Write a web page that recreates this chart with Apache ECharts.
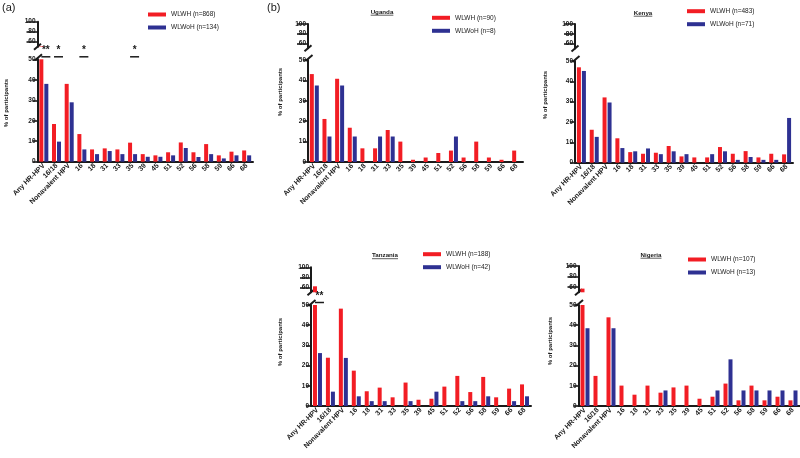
<!DOCTYPE html>
<html><head><meta charset="utf-8">
<script src="https://cdn.jsdelivr.net/npm/echarts@6/dist/echarts.min.js"></script>
<style>html,body{margin:0;padding:0;background:#fff}#c{width:800px;height:458px}</style>
</head><body><div id="c"></div>
<script>
const categories = ['Any HR-HPV','16/18','Nonavalent HPV','16','18','31','33','35','39','45','51','52','56','58','59','66','68'];
const overallWLWH  = [51,18.4,38,13.5,6,6.5,6,9.3,3.7,3.1,4.6,9.4,4.6,8.6,3.1,4.9,5.5];
const overallWLWoH = [38,9.8,29,6,3.7,5.2,3.7,3.7,2.4,2.4,3.1,6.7,2.3,3.7,1.6,3.1,3.1];
const ugandaWLWH   = [43.1,21.1,40.8,16.8,6.7,6.7,15.7,10,1.1,2.2,4.4,5.6,2.2,10,2.2,1.1,5.6];
const ugandaWLWoH  = [37.5,12.5,37.5,12.5,0,12.5,12.5,0,0,0,0,12.5,0,0,0,0,0];
const kenyaWLWH    = [46.9,16.2,32.1,12,5.2,4.4,4.9,8.2,3.1,2.6,2.6,7.7,4.4,5.7,2.6,4.4,4.1];
const kenyaWLWoH   = [45.1,12.7,29.6,7.2,5.6,7,4.2,5.6,4.2,0,4.2,5.6,1.4,2.8,1.4,1.4,22];
const tanzaniaWLWH = [62,23.9,48.2,17.5,7.3,9.1,4.3,11.6,3.1,3.6,9.6,14.9,6.9,14.4,4.3,8.6,10.7];
const tanzaniaWLWoH= [26.2,7.1,23.8,4.8,2.4,2.4,0,2.4,0,7.1,0,2.4,2.4,4.8,0,2.4,4.8];
const nigeriaWLWH  = [57,14.9,43.9,10.1,5.6,10.1,6.6,9.2,10.1,3.6,4.6,11.1,2.8,10.1,2.8,4.6,2.8];
const nigeriaWLWoH = [38.5,0,38.5,0,0,0,7.7,0,0,0,7.7,23.1,7.7,7.7,7.7,7.7,7.7];
const yTicksUpper = [60,80,100];
const panelTitles = ['', 'Uganda', 'Kenya', 'Tanzania', 'Nigeria'];
const wlwhNames  = ['WLWH (n=868)','WLWH (n=90)','WLWH (n=483)','WLWH (n=188)','WLWH (n=107)'];
const wlwohNames = ['WLWoH (n=134)','WLWoH (n=8)','WLWoH (n=71)','WLWoH (n=42)','WLWoH (n=13)'];
const significance = [
  [['Any HR-HPV','**'],['16/18','*'],['16','*'],['35','*']],
  [], [], [['Any HR-HPV','**']], []
];
const yName = '% of participants';

const panelData = [
  [overallWLWH, overallWLWoH],
  [ugandaWLWH, ugandaWLWoH],
  [kenyaWLWH, kenyaWLWoH],
  [tanzaniaWLWH, tanzaniaWLWoH],
  [nigeriaWLWH, nigeriaWLWoH]
];

const RED = '#f21d24', BLUE = '#2e3192', INK = '#1a1a1a';
const FONT = 'Liberation Sans, Arial, sans-serif';

const layout = [
  {left:37.5, width:215.5, upTop:21.7, upH:25,   loTop:59.3, loH:102.4, nameX:6.5,   nameY:103, legL:148, legT:11},
  {left:308,  width:215,   upTop:24,   upH:24.2, loTop:60,   loH:102,   nameX:280.7, nameY:92,  legL:432, legT:14.3, tX:382, tY:12},
  {left:575,  width:218,   upTop:24,   upH:24.6, loTop:61,   loH:101.7, nameX:545,   nameY:95,  legL:687, legT:7.7,  tX:643, tY:13},
  {left:311,  width:220,   upTop:267.3,upH:25,   loTop:305,  loH:101,   nameX:280.7, nameY:342, legL:423, legT:250.7,tX:385, tY:255.5},
  {left:578.5,width:221,   upTop:266,  upH:26.3, loTop:305,  loH:101,   nameX:550.7, nameY:341, legL:688, legT:256,  tX:651, tY:255}
];

const grid = [], xAxis = [], yAxis = [], series = [], legend = [];
const yLabelStyle = {fontSize:6.5, fontWeight:'bold', color:INK, fontFamily:FONT};
const xLabelStyle = {fontSize:7, fontWeight:'bold', color:INK, fontFamily:FONT};
layout.forEach((L, i) => {
  const up = 2*i, lo = 2*i+1;
  grid.push({left:L.left, width:L.width, top:L.upTop, height:L.upH});
  grid.push({left:L.left, width:L.width, top:L.loTop, height:L.loH});
  xAxis.push({gridIndex:up, type:'category', data:categories, show:false});
  xAxis.push({gridIndex:lo, type:'category', data:categories,
    axisLine:{lineStyle:{color:INK, width:2}},
    axisTick:{alignWithLabel:true, length:5, lineStyle:{color:INK, width:2}},
    axisLabel:Object.assign({rotate:45, interval:0, margin:3}, xLabelStyle)});
  yAxis.push({gridIndex:up, type:'value', min:50, max:100,
    axisLine:{show:true, lineStyle:{color:INK, width:2}},
    axisTick:{show:true, customValues:yTicksUpper, length:11, lineStyle:{color:INK, width:1.6}},
    axisLabel:Object.assign({customValues:yTicksUpper, margin:2}, yLabelStyle),
    splitLine:{show:false}});
  yAxis.push({gridIndex:lo, type:'value', min:0, max:50, interval:10,
    axisLine:{show:true, lineStyle:{color:INK, width:2}},
    axisTick:{show:true, length:5, lineStyle:{color:INK, width:1.6}},
    axisLabel:Object.assign({margin:2}, yLabelStyle),
    splitLine:{show:false}});
  const [a, b] = panelData[i];
  const common = {type:'bar', barWidth:4, barGap:'25%', animation:false};
  series.push(Object.assign({name:wlwhNames[i], xAxisIndex:lo, yAxisIndex:lo, data:a, itemStyle:{color:RED}}, common));
  series.push(Object.assign({name:wlwohNames[i], xAxisIndex:lo, yAxisIndex:lo, data:b, itemStyle:{color:BLUE}}, common));
  series.push(Object.assign({name:wlwhNames[i], xAxisIndex:up, yAxisIndex:up, data:a.map(v => v > 50 ? v : '-'), itemStyle:{color:RED}}, common));
  series.push(Object.assign({name:wlwohNames[i], xAxisIndex:up, yAxisIndex:up, data:b.map(v => v > 50 ? v : '-'), itemStyle:{color:BLUE}}, common));
  legend.push({orient:'vertical', left:L.legL, top:L.legT, padding:0, itemWidth:18, itemHeight:4, itemGap:6,
    icon:'rect', data:[wlwhNames[i], wlwohNames[i]],
    textStyle:{fontSize:6.5, color:'#222', fontFamily:FONT}});
});

const chart = echarts.init(document.getElementById('c'), null, {renderer:'canvas'});
chart.setOption({animation:false, backgroundColor:'#fff', grid, xAxis, yAxis, series, legend});

const ctx = document.createElement('canvas').getContext('2d');
const graphic = [];
graphic.push({type:'text', x:2, y:8, style:{text:'(a)', font:'11px ' + FONT, fill:INK, textVerticalAlign:'middle'}});
graphic.push({type:'text', x:267, y:8, style:{text:'(b)', font:'11px ' + FONT, fill:INK, textVerticalAlign:'middle'}});
layout.forEach((L, i) => {
  const lo = 2*i+1;
  graphic.push({type:'text', x:L.nameX, y:L.nameY, rotation:Math.PI/2,
    style:{text:yName, font:'bold 6px ' + FONT, fill:INK, textAlign:'center', textVerticalAlign:'middle'}});
  if (panelTitles[i]) {
    const f = 'bold 6.2px ' + FONT;
    ctx.font = 'bold 6.2px Liberation Sans, Arial';
    const w = ctx.measureText(panelTitles[i]).width;
    graphic.push({type:'text', x:L.tX, y:L.tY, style:{text:panelTitles[i], font:f, fill:INK, textAlign:'center', textVerticalAlign:'middle'}});
    graphic.push({type:'line', shape:{x1:L.tX - w/2, y1:L.tY + 3.2, x2:L.tX + w/2, y2:L.tY + 3.2}, style:{stroke:INK, lineWidth:0.7}});
  }
  const ax = L.left;
  const upB = L.upTop + L.upH;
  graphic.push({type:'line', shape:{x1:ax-3.5, y1:upB+3, x2:ax+3.5, y2:upB-3}, style:{stroke:INK, lineWidth:2}});
  graphic.push({type:'line', shape:{x1:ax-2.5, y1:L.loTop+1, x2:ax+4.5, y2:L.loTop-5}, style:{stroke:INK, lineWidth:2}});
  significance[i].forEach(([cat, txt]) => {
    const p = chart.convertToPixel({xAxisIndex:lo, yAxisIndex:lo}, [cat, 50]);
    const cx = p[0] + 2;
    graphic.push({type:'text', x:cx, y:p[1] - 9, style:{text:txt, font:'bold 10px ' + FONT, fill:INK, textAlign:'center', textVerticalAlign:'middle'}});
    graphic.push({type:'line', shape:{x1:cx-4.5, y1:p[1]-2.5, x2:cx+4.5, y2:p[1]-2.5}, style:{stroke:INK, lineWidth:1.5}});
  });
});
chart.setOption({graphic});
</script>
</body></html>
